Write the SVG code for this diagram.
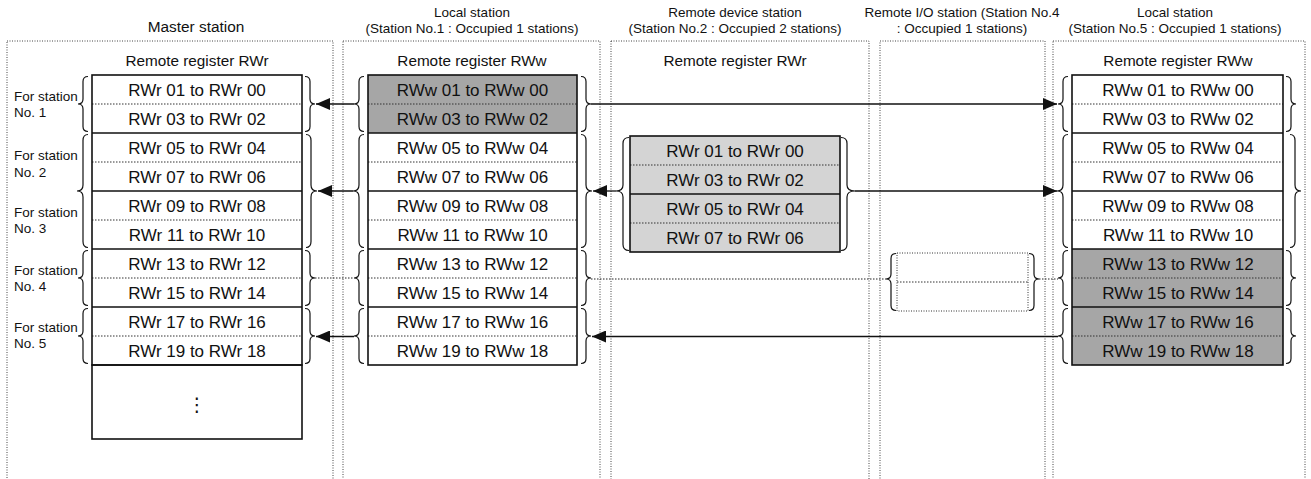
<svg xmlns="http://www.w3.org/2000/svg" xmlns:xlink="http://www.w3.org/1999/xlink" width="1311" height="479" viewBox="0 0 1311 479">
<style>
text{font-family:"Liberation Sans",Arial,sans-serif;fill:#111;text-anchor:middle}
.ttl{font-size:13.5px}
.mt{font-size:15.4px}
.rh{font-size:15.3px}
.cell{font-size:17px}
.lbl{font-size:13.5px;text-anchor:start}
.panel{fill:none;stroke:#444;stroke-width:1;stroke-dasharray:1 1.5}
.tbl{fill:none;stroke:#111;stroke-width:1.6}
.sep{stroke:#111;stroke-width:1.6}
.dot{stroke:#333;stroke-width:1;stroke-dasharray:1.5 1.5}
.br{fill:none;stroke:#111;stroke-width:1.2}
.con{stroke:#111;stroke-width:1.3;fill:none}
.dcon{stroke:#222;stroke-width:1;stroke-dasharray:1.5 1.5;fill:none}
.dk{fill:#a6a6a6}
.lt{fill:#d4d4d4}
</style>
<defs>
<marker id="ah" markerUnits="userSpaceOnUse" markerWidth="15" markerHeight="12" refX="14" refY="6" orient="auto">
<path d="M0,0 L14,6 L0,12 z" fill="#111"/>
</marker>
<path id="b2" class="br" d="M10,-27.5 Q5,-27.5 5,-22.5 L5,-5 Q5,0 0,0 Q5,0 5,5 L5,22.5 Q5,27.5 10,27.5"/>
<path id="b4" class="br" d="M11,-56.5 Q6,-56.5 6,-50.5 L6,-6 Q6,0 0,0 Q6,0 6,6 L6,50.5 Q6,56.5 11,56.5"/>
</defs>

<g id="master">
<rect class="panel" x="7" y="41" width="326" height="450"/>
<text class="mt" x="196" y="32">Master station</text>
<text class="rh" x="197" y="66">Remote register RWr</text>
<rect x="92" y="75" width="210" height="290" fill="#fff"/>
<line class="dot" x1="92" y1="104" x2="302" y2="104"/>
<line class="dot" x1="92" y1="162" x2="302" y2="162"/>
<line class="dot" x1="92" y1="220" x2="302" y2="220"/>
<line class="dot" x1="92" y1="278" x2="302" y2="278"/>
<line class="dot" x1="92" y1="336" x2="302" y2="336"/>
<line class="sep" x1="92" y1="133" x2="302" y2="133"/>
<line class="sep" x1="92" y1="191" x2="302" y2="191"/>
<line class="sep" x1="92" y1="249" x2="302" y2="249"/>
<line class="sep" x1="92" y1="307" x2="302" y2="307"/>
<rect class="tbl" x="92" y="75" width="210" height="290"/>
<rect class="tbl" x="92" y="365" width="210" height="74"/>
<text class="cell" x="197" y="95.5">RWr 01 to RWr 00</text>
<text class="cell" x="197" y="124.5">RWr 03 to RWr 02</text>
<text class="cell" x="197" y="153.5">RWr 05 to RWr 04</text>
<text class="cell" x="197" y="182.5">RWr 07 to RWr 06</text>
<text class="cell" x="197" y="211.5">RWr 09 to RWr 08</text>
<text class="cell" x="197" y="240.5">RWr 11 to RWr 10</text>
<text class="cell" x="197" y="269.5">RWr 13 to RWr 12</text>
<text class="cell" x="197" y="298.5">RWr 15 to RWr 14</text>
<text class="cell" x="197" y="327.5">RWr 17 to RWr 16</text>
<text class="cell" x="197" y="356.5">RWr 19 to RWr 18</text>
<text x="197" y="411" style="font-family:'DejaVu Sans',sans-serif;font-size:19px">⋮</text>
<text class="lbl" x="14" y="101">For station</text>
<text class="lbl" x="14" y="117">No. 1</text>
<text class="lbl" x="14" y="160">For station</text>
<text class="lbl" x="14" y="177">No. 2</text>
<text class="lbl" x="14" y="217">For station</text>
<text class="lbl" x="14" y="233">No. 3</text>
<text class="lbl" x="14" y="275">For station</text>
<text class="lbl" x="14" y="291">No. 4</text>
<text class="lbl" x="14" y="332">For station</text>
<text class="lbl" x="14" y="348">No. 5</text>
<use xlink:href="#b2" transform="translate(78,104)"/>
<use xlink:href="#b4" transform="translate(77,191)"/>
<use xlink:href="#b2" transform="translate(78,278)"/>
<use xlink:href="#b2" transform="translate(78,336)"/>
<use xlink:href="#b2" transform="translate(315,104) scale(-1,1)"/>
<use xlink:href="#b4" transform="translate(317,191) scale(-1,1)"/>
<use xlink:href="#b2" transform="translate(315,278) scale(-1,1)"/>
<use xlink:href="#b2" transform="translate(315,336) scale(-1,1)"/>
</g>

<g id="local1">
<rect class="panel" x="343" y="41" width="257" height="450"/>
<text class="ttl" x="472" y="17">Local station</text>
<text class="ttl" x="472" y="33">(Station No.1 : Occupied 1 stations)</text>
<text class="rh" x="472" y="66">Remote register RWw</text>
<rect x="368" y="75" width="209" height="290" fill="#fff"/>
<rect class="dk" x="368" y="75" width="209" height="58"/>
<line class="dot" x1="368" y1="104" x2="577" y2="104"/>
<line class="dot" x1="368" y1="162" x2="577" y2="162"/>
<line class="dot" x1="368" y1="220" x2="577" y2="220"/>
<line class="dot" x1="368" y1="278" x2="577" y2="278"/>
<line class="dot" x1="368" y1="336" x2="577" y2="336"/>
<line class="sep" x1="368" y1="133" x2="577" y2="133"/>
<line class="sep" x1="368" y1="191" x2="577" y2="191"/>
<line class="sep" x1="368" y1="249" x2="577" y2="249"/>
<line class="sep" x1="368" y1="307" x2="577" y2="307"/>
<rect class="tbl" x="368" y="75" width="209" height="290"/>
<text class="cell" x="472.5" y="95.5">RWw 01 to RWw 00</text>
<text class="cell" x="472.5" y="124.5">RWw 03 to RWw 02</text>
<text class="cell" x="472.5" y="153.5">RWw 05 to RWw 04</text>
<text class="cell" x="472.5" y="182.5">RWw 07 to RWw 06</text>
<text class="cell" x="472.5" y="211.5">RWw 09 to RWw 08</text>
<text class="cell" x="472.5" y="240.5">RWw 11 to RWw 10</text>
<text class="cell" x="472.5" y="269.5">RWw 13 to RWw 12</text>
<text class="cell" x="472.5" y="298.5">RWw 15 to RWw 14</text>
<text class="cell" x="472.5" y="327.5">RWw 17 to RWw 16</text>
<text class="cell" x="472.5" y="356.5">RWw 19 to RWw 18</text>
<use xlink:href="#b2" transform="translate(354,104)"/>
<use xlink:href="#b4" transform="translate(353,191)"/>
<use xlink:href="#b2" transform="translate(354,278)"/>
<use xlink:href="#b2" transform="translate(354,336)"/>
<use xlink:href="#b2" transform="translate(591,104) scale(-1,1)"/>
<use xlink:href="#b4" transform="translate(592,191) scale(-1,1)"/>
<use xlink:href="#b2" transform="translate(591,278) scale(-1,1)"/>
<use xlink:href="#b2" transform="translate(591,336) scale(-1,1)"/>
</g>

<g id="remote-device">
<rect class="panel" x="611" y="41" width="258" height="450"/>
<text class="ttl" x="735" y="17">Remote device station</text>
<text class="ttl" x="735" y="33">(Station No.2 : Occupied 2 stations)</text>
<text class="rh" x="735" y="66">Remote register RWr</text>
<rect class="lt" x="630" y="136" width="210" height="116"/>
<line class="dot" x1="630" y1="165" x2="840" y2="165"/>
<line class="dot" x1="630" y1="223" x2="840" y2="223"/>
<line class="sep" x1="630" y1="194" x2="840" y2="194"/>
<rect class="tbl" x="630" y="136" width="210" height="116"/>
<text class="cell" x="735" y="156.5">RWr 01 to RWr 00</text>
<text class="cell" x="735" y="185.5">RWr 03 to RWr 02</text>
<text class="cell" x="735" y="214.5">RWr 05 to RWr 04</text>
<text class="cell" x="735" y="243.5">RWr 07 to RWr 06</text>
<path class="br" d="M629,137.5 Q623,137.5 623,143.5 L623,185 Q623,191 616,191 Q623,191 623,197 L623,244.5 Q623,250.5 629,250.5"/>
<path class="br" d="M841,137.5 Q847,137.5 847,143.5 L847,185 Q847,191 855,191 Q847,191 847,197 L847,244.5 Q847,250.5 841,250.5"/>
</g>

<g id="remote-io">
<rect class="panel" x="880" y="41" width="165" height="450"/>
<text class="ttl" x="962" y="17">Remote I/O station (Station No.4</text>
<text class="ttl" x="962" y="33">: Occupied 1 stations)</text>
<rect class="panel" x="897" y="253" width="131" height="58" style="stroke:#333"/>
<line class="dot" x1="897" y1="282" x2="1028" y2="282"/>
<path class="br" d="M896,253.5 Q891,253.5 891,258.5 L891,274 Q891,279 886,279 Q891,279 891,284 L891,305.5 Q891,310.5 896,310.5"/>
<path class="br" d="M1029,253.5 Q1034,253.5 1034,258.5 L1034,274 Q1034,279 1039,279 Q1034,279 1034,284 L1034,305.5 Q1034,310.5 1029,310.5"/>
</g>

<g id="local5">
<rect class="panel" x="1053" y="41" width="252" height="450"/>
<text class="ttl" x="1175" y="17">Local station</text>
<text class="ttl" x="1175" y="33">(Station No.5 : Occupied 1 stations)</text>
<text class="rh" x="1178" y="66">Remote register RWw</text>
<rect x="1072" y="75" width="211" height="290" fill="#fff"/>
<rect class="dk" x="1072" y="249" width="211" height="116"/>
<line class="dot" x1="1072" y1="104" x2="1283" y2="104"/>
<line class="dot" x1="1072" y1="162" x2="1283" y2="162"/>
<line class="dot" x1="1072" y1="220" x2="1283" y2="220"/>
<line class="dot" x1="1072" y1="278" x2="1283" y2="278"/>
<line class="dot" x1="1072" y1="336" x2="1283" y2="336"/>
<line class="sep" x1="1072" y1="133" x2="1283" y2="133"/>
<line class="sep" x1="1072" y1="191" x2="1283" y2="191"/>
<line class="sep" x1="1072" y1="249" x2="1283" y2="249"/>
<line class="sep" x1="1072" y1="307" x2="1283" y2="307"/>
<rect class="tbl" x="1072" y="75" width="211" height="290"/>
<text class="cell" x="1178" y="95.5">RWw 01 to RWw 00</text>
<text class="cell" x="1178" y="124.5">RWw 03 to RWw 02</text>
<text class="cell" x="1178" y="153.5">RWw 05 to RWw 04</text>
<text class="cell" x="1178" y="182.5">RWw 07 to RWw 06</text>
<text class="cell" x="1178" y="211.5">RWw 09 to RWw 08</text>
<text class="cell" x="1178" y="240.5">RWw 11 to RWw 10</text>
<text class="cell" x="1178" y="269.5">RWw 13 to RWw 12</text>
<text class="cell" x="1178" y="298.5">RWw 15 to RWw 14</text>
<text class="cell" x="1178" y="327.5">RWw 17 to RWw 16</text>
<text class="cell" x="1178" y="356.5">RWw 19 to RWw 18</text>
<use xlink:href="#b2" transform="translate(1058,104)"/>
<use xlink:href="#b4" transform="translate(1057,191)"/>
<use xlink:href="#b2" transform="translate(1058,278)"/>
<use xlink:href="#b2" transform="translate(1058,336)"/>
<use xlink:href="#b2" transform="translate(1296,104) scale(-1,1)"/>
<use xlink:href="#b4" transform="translate(1301,191) scale(-1,1)"/>
<use xlink:href="#b2" transform="translate(1296,278) scale(-1,1)"/>
<use xlink:href="#b2" transform="translate(1296,336) scale(-1,1)"/>
</g>

<g id="connectors">
<line class="con" x1="354" y1="104" x2="316" y2="104" marker-end="url(#ah)"/>
<line class="con" x1="591" y1="104" x2="1057" y2="104" marker-end="url(#ah)"/>
<line class="con" x1="616" y1="191" x2="593" y2="191" marker-end="url(#ah)"/>
<line class="con" x1="353" y1="191" x2="318" y2="191" marker-end="url(#ah)"/>
<line class="con" x1="855" y1="191" x2="1057" y2="191" marker-end="url(#ah)"/>
<line class="con" x1="1058" y1="336.5" x2="592" y2="336.5" marker-end="url(#ah)"/>
<line class="con" x1="354" y1="336.5" x2="316" y2="336.5" marker-end="url(#ah)"/>
<line class="dcon" x1="315" y1="278" x2="354" y2="278"/>
<line class="dcon" x1="591" y1="279" x2="886" y2="279"/>
<line class="dcon" x1="1039" y1="279" x2="1058" y2="279"/>
</g>
</svg>
